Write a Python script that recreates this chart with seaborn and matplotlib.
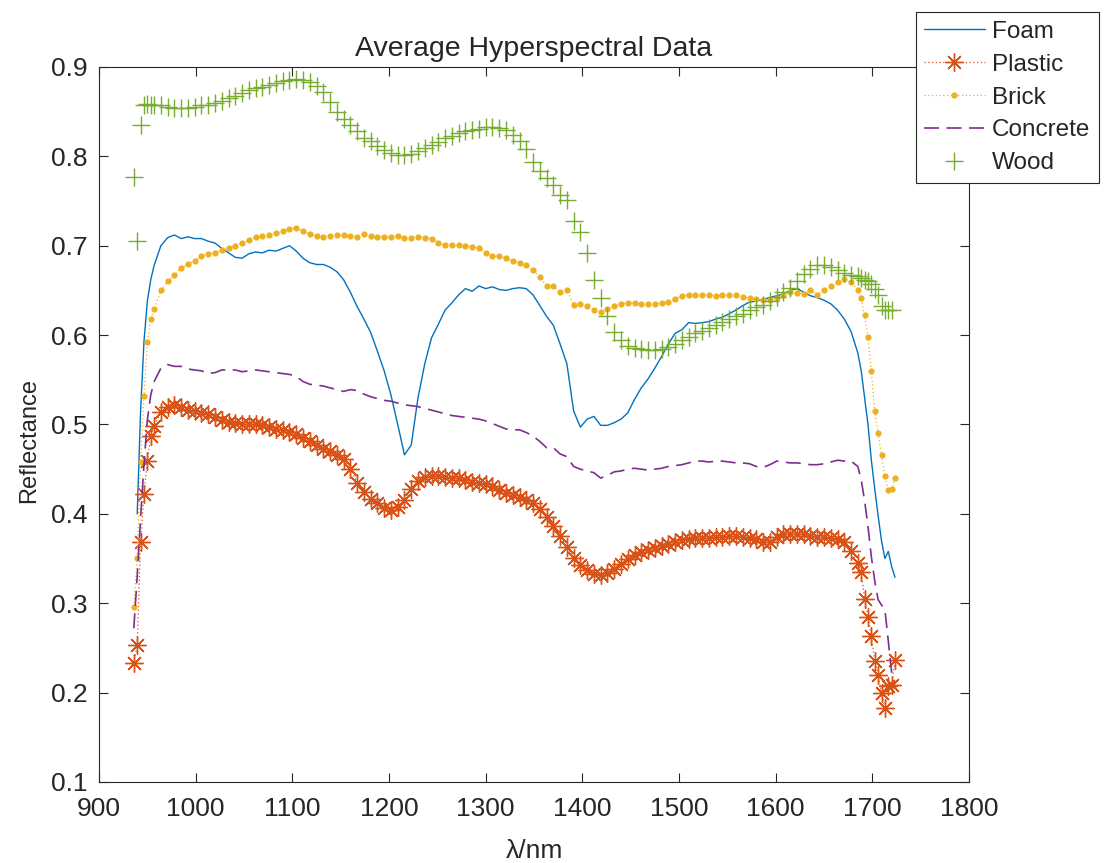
import matplotlib
matplotlib.use('Agg')
import matplotlib.pyplot as plt
import seaborn as sns
import numpy as np

nan = np.nan

# band centres (nm): 3.5 nm at the edges, every second band in the middle
wavelength = [936, 939.5, 943, 946.5, 950, 953.5, 957,
              964, 971, 978, 985, 992, 999, 1006, 1013,
              1020, 1027, 1034, 1041, 1048, 1055, 1062, 1069,
              1076, 1083, 1090, 1097, 1104, 1111, 1118, 1125,
              1132, 1139, 1146, 1153, 1160, 1167, 1174, 1181,
              1188, 1195, 1202, 1209, 1216, 1223, 1230, 1237,
              1244, 1251, 1258, 1265, 1272, 1279, 1286, 1293,
              1300, 1307, 1314, 1321, 1328, 1335, 1342, 1349,
              1356, 1363, 1370, 1377, 1384, 1391, 1398, 1405,
              1412, 1419, 1426, 1433, 1440, 1447, 1454, 1461,
              1468, 1475, 1482, 1489, 1496, 1503, 1510, 1517,
              1524, 1531, 1538, 1545, 1552, 1559, 1566, 1573,
              1580, 1587, 1594, 1601, 1608, 1615, 1622, 1629,
              1636, 1643, 1650, 1657, 1664, 1671, 1678, 1685,
              1688.5, 1692, 1695.5, 1699, 1702.5, 1706, 1709.5, 1713, 1716.5, 1720, 1723.5]

foam = [nan, 0.400, 0.515, 0.593, 0.638, 0.662, 0.678,
        0.700, 0.709, 0.712, 0.708, 0.710, 0.708, 0.708, 0.705,
        0.703, 0.697, 0.692, 0.687, 0.686, 0.691, 0.693, 0.692,
        0.695, 0.694, 0.697, 0.700, 0.694, 0.686, 0.681, 0.679,
        0.679, 0.676, 0.671, 0.662, 0.648, 0.632, 0.618, 0.603,
        0.582, 0.560, 0.533, 0.500, 0.466, 0.477, 0.530, 0.568,
        0.597, 0.612, 0.628, 0.636, 0.645, 0.652, 0.649, 0.655,
        0.652, 0.654, 0.651, 0.650, 0.652, 0.653, 0.652, 0.645,
        0.633, 0.621, 0.611, 0.590, 0.568, 0.515, 0.497, 0.506,
        0.509, 0.499, 0.499, 0.502, 0.506, 0.513, 0.528, 0.541,
        0.551, 0.563, 0.576, 0.590, 0.602, 0.606, 0.614, 0.613,
        0.614, 0.615, 0.618, 0.620, 0.624, 0.628, 0.633, 0.637,
        0.638, 0.640, 0.642, 0.644, 0.646, 0.650, 0.652, 0.648,
        0.644, 0.642, 0.639, 0.635, 0.628, 0.618, 0.604, 0.580,
        0.560, 0.530, 0.500, 0.460, 0.428, 0.398, 0.370, 0.350, 0.358, 0.341, 0.329]

plastic = [0.233, 0.253, 0.369, 0.422, 0.459, 0.487, 0.498,
           0.514, 0.520, 0.522, 0.519, 0.516, 0.515, 0.513, 0.512,
           0.508, 0.505, 0.503, 0.502, 0.501, 0.500, 0.500, 0.499,
           0.497, 0.495, 0.494, 0.492, 0.489, 0.485, 0.481, 0.477,
           0.473, 0.470, 0.466, 0.461, 0.450, 0.435, 0.424, 0.417,
           0.412, 0.407, 0.404, 0.408, 0.416, 0.428, 0.437, 0.441,
           0.442, 0.442, 0.441, 0.440, 0.440, 0.438, 0.436, 0.435,
           0.433, 0.431, 0.427, 0.423, 0.421, 0.419, 0.416, 0.412,
           0.405, 0.397, 0.386, 0.375, 0.363, 0.351, 0.343, 0.337,
           0.333, 0.332, 0.334, 0.338, 0.344, 0.349, 0.354, 0.357,
           0.360, 0.362, 0.364, 0.366, 0.369, 0.371, 0.372, 0.373,
           0.373, 0.373, 0.374, 0.374, 0.375, 0.375, 0.374, 0.373,
           0.372, 0.368, 0.369, 0.374, 0.377, 0.378, 0.378, 0.377,
           0.375, 0.374, 0.374, 0.373, 0.372, 0.368, 0.358, 0.345,
           0.335, 0.305, 0.285, 0.263, 0.235, 0.220, 0.199, 0.183, 0.207, 0.209, 0.236]

brick = [0.296, 0.351, 0.458, 0.532, 0.592, 0.618, 0.629,
         0.650, 0.660, 0.667, 0.675, 0.679, 0.683, 0.689, 0.691,
         0.692, 0.695, 0.697, 0.700, 0.703, 0.706, 0.710, 0.711,
         0.712, 0.714, 0.716, 0.719, 0.720, 0.716, 0.713, 0.711,
         0.710, 0.711, 0.712, 0.712, 0.711, 0.710, 0.713, 0.711,
         0.710, 0.710, 0.710, 0.711, 0.709, 0.709, 0.710, 0.709,
         0.708, 0.703, 0.701, 0.701, 0.701, 0.700, 0.699, 0.698,
         0.692, 0.689, 0.688, 0.686, 0.683, 0.681, 0.678, 0.673,
         0.665, 0.655, 0.655, 0.648, 0.650, 0.634, 0.635, 0.632,
         0.628, 0.626, 0.629, 0.632, 0.635, 0.636, 0.636, 0.635,
         0.635, 0.635, 0.636, 0.637, 0.640, 0.644, 0.645, 0.645,
         0.645, 0.645, 0.644, 0.645, 0.645, 0.645, 0.643, 0.641,
         0.640, 0.639, 0.639, 0.641, 0.645, 0.648, 0.647, 0.646,
         0.650, 0.645, 0.650, 0.655, 0.659, 0.663, 0.659, 0.650,
         0.641, 0.622, 0.598, 0.560, 0.515, 0.490, 0.466, 0.442, 0.427, 0.428, 0.440]

concrete = [0.272, 0.330, 0.395, 0.455, 0.505, 0.533, 0.548,
            0.563, 0.567, 0.565, 0.565, 0.562, 0.561, 0.560, 0.557,
            0.558, 0.561, 0.561, 0.561, 0.559, 0.560, 0.561, 0.560,
            0.559, 0.558, 0.557, 0.556, 0.554, 0.548, 0.545, 0.544,
            0.543, 0.541, 0.539, 0.537, 0.539, 0.538, 0.534, 0.531,
            0.529, 0.527, 0.526, 0.524, 0.522, 0.521, 0.520, 0.518,
            0.516, 0.514, 0.512, 0.510, 0.509, 0.508, 0.507, 0.506,
            0.504, 0.501, 0.498, 0.495, 0.494, 0.494, 0.491, 0.487,
            0.481, 0.474, 0.474, 0.467, 0.464, 0.453, 0.450, 0.448,
            0.446, 0.440, 0.443, 0.447, 0.448, 0.450, 0.451, 0.450,
            0.449, 0.450, 0.451, 0.453, 0.454, 0.455, 0.457, 0.459,
            0.459, 0.458, 0.459, 0.459, 0.458, 0.457, 0.457, 0.456,
            0.453, 0.452, 0.455, 0.459, 0.458, 0.457, 0.457, 0.456,
            0.455, 0.455, 0.456, 0.458, 0.460, 0.459, 0.459, 0.453,
            0.438, 0.415, 0.386, 0.352, 0.325, 0.304, 0.298, 0.293, 0.258, 0.222, nan]

wood = [0.777, 0.705, 0.835, 0.858, 0.859, 0.857, 0.858,
        0.857, 0.855, 0.854, 0.854, 0.854, 0.855, 0.857, 0.858,
        0.860, 0.862, 0.865, 0.868, 0.871, 0.874, 0.876, 0.878,
        0.880, 0.882, 0.884, 0.885, 0.886, 0.885, 0.883, 0.879,
        0.872, 0.861, 0.850, 0.842, 0.835, 0.828, 0.821, 0.817,
        0.812, 0.807, 0.804, 0.802, 0.801, 0.803, 0.806, 0.809,
        0.813, 0.816, 0.820, 0.823, 0.826, 0.828, 0.830, 0.831,
        0.833, 0.833, 0.832, 0.829, 0.824, 0.817, 0.808, 0.794,
        0.784, 0.776, 0.768, 0.757, 0.751, 0.728, 0.715, 0.692,
        0.662, 0.642, 0.621, 0.604, 0.594, 0.588, 0.585, 0.584,
        0.583, 0.583, 0.584, 0.587, 0.590, 0.594, 0.598, 0.602,
        0.605, 0.608, 0.611, 0.615, 0.618, 0.621, 0.624, 0.628,
        0.631, 0.634, 0.638, 0.643, 0.648, 0.653, 0.660, 0.668,
        0.674, 0.678, 0.678, 0.676, 0.673, 0.670, 0.667, 0.666,
        0.664, 0.662, 0.660, 0.657, 0.652, 0.645, 0.632, 0.628, 0.628, 0.628, nan]

x_ticks = [900, 1000, 1100, 1200, 1300, 1400, 1500, 1600, 1700, 1800]
y_ticks = [0.1, 0.2, 0.3, 0.4, 0.5, 0.6, 0.7, 0.8, 0.9]

# MATLAB default colour order
c_foam = '#0072BD'
c_plastic = '#D95319'
c_brick = '#EDB120'
c_concrete = '#7E2F8E'
c_wood = '#77AC30'

sns.set_theme(style='ticks')
plt.rcParams['font.family'] = ['Liberation Sans', 'DejaVu Sans']
plt.rcParams['axes.edgecolor'] = '#262626'
plt.rcParams['axes.linewidth'] = 0.8

fig = plt.figure(figsize=(11.04, 8.63), dpi=100)
ax = fig.add_axes([0.0897, 0.0939, 0.788, 0.8285])

sns.lineplot(x=wavelength, y=foam, ax=ax, color=c_foam, linewidth=1.0,
             errorbar=None, label='Foam')
sns.lineplot(x=wavelength, y=plastic, ax=ax, color=c_plastic, linewidth=0.9,
             linestyle=(0, (1, 2)), marker=(8, 2, 0), markersize=13,
             markeredgecolor=c_plastic, markeredgewidth=1.0,
             errorbar=None, label='Plastic')
sns.lineplot(x=wavelength, y=brick, ax=ax, color=c_brick, linewidth=0.9,
             linestyle=(0, (1, 2)), marker='o', markersize=4.5,
             markeredgecolor=c_brick, markeredgewidth=0,
             errorbar=None, label='Brick')
sns.lineplot(x=wavelength, y=concrete, ax=ax, color=c_concrete, linewidth=1.2,
             linestyle=(0, (9, 4.5)), errorbar=None, label='Concrete')
sns.lineplot(x=wavelength, y=wood, ax=ax, color=c_wood, linewidth=0,
             linestyle='None', marker='+', markersize=13,
             markeredgecolor=c_wood, markeredgewidth=1.0,
             errorbar=None, label='Wood')

ax.set_xlim(900, 1800)
ax.set_ylim(0.1, 0.9)
ax.set_xticks(x_ticks)
ax.set_yticks(y_ticks)
ax.set_yticklabels([f'{v:g}' for v in y_ticks])
ax.tick_params(direction='in', length=6.5, width=0.8, top=True, right=True,
               labelsize=19, colors='#262626')
ax.tick_params(axis='x', pad=11)
ax.tick_params(axis='y', pad=8)
for s in ax.spines.values():
    s.set_visible(True)

ax.set_title('Average Hyperspectral Data', fontsize=20.5, pad=8)
ax.set_xlabel('λ/nm', fontsize=19, labelpad=13)
ax.set_ylabel('Reflectance', fontsize=17)
ax.yaxis.set_label_coords(-0.068, 0.477)

leg = ax.legend(loc='upper right', bbox_to_anchor=(0.9955, 0.986),
                bbox_transform=fig.transFigure, fontsize=17.5, frameon=True,
                fancybox=False, framealpha=1, edgecolor='#262626',
                labelspacing=0.45, handlelength=2.5, handletextpad=0.3,
                borderpad=0.35, borderaxespad=0)
leg.get_frame().set_linewidth(0.8)

fig.savefig('out.png', dpi=100)
